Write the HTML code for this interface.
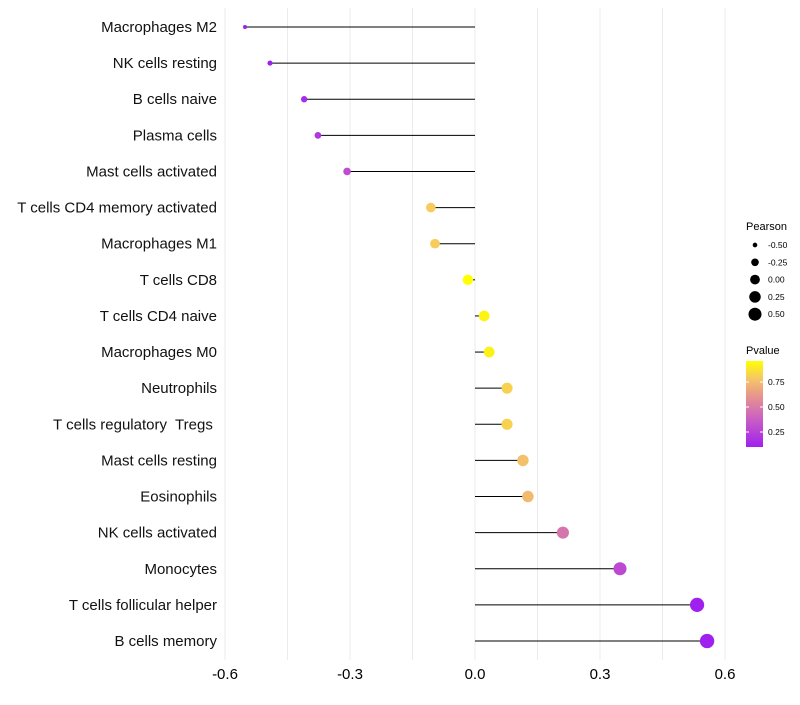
<!DOCTYPE html>
<html><head><meta charset="utf-8"><style>
body{margin:0;background:#fff;font-family:"Liberation Sans",sans-serif}
text{white-space:pre}
</style></head><body>
<svg id="chart" width="800" height="700" xmlns="http://www.w3.org/2000/svg" xml:space="preserve"></svg>
<script>
const categories=["Macrophages M2","NK cells resting","B cells naive","Plasma cells","Mast cells activated","T cells CD4 memory activated","Macrophages M1","T cells CD8","T cells CD4 naive","Macrophages M0","Neutrophils","T cells regulatory  Tregs ","Mast cells resting","Eosinophils","NK cells activated","Monocytes","T cells follicular helper","B cells memory"];
const pearson=[-0.552,-0.492,-0.41,-0.377,-0.307,-0.106,-0.096,-0.017,0.022,0.034,0.077,0.077,0.115,0.127,0.211,0.348,0.533,0.557];
const pvalue=[0.05,0.08,0.15,0.2,0.3,0.8,0.8,0.97,0.93,0.92,0.82,0.82,0.76,0.74,0.47,0.28,0.06,0.05];
const xTicks=[-0.6,-0.3,0.0,0.3,0.6];
const xTickLabels=["-0.6","-0.3","0.0","0.3","0.6"];
const sizeLegend=[-0.5,-0.25,0,0.25,0.5];
const sizeLegendLabels=["-0.50","-0.25","0.00","0.25","0.50"];
const colorTicks=[0.75,0.5,0.25];
const colorTickLabels=["0.75","0.50","0.25"];

const svg=document.getElementById('chart');
const NS="http://www.w3.org/2000/svg";
function mk(t,a,p){const e=document.createElementNS(NS,t);for(const k in a)e.setAttribute(k,a[k]);(p||svg).appendChild(e);return e;}
const x=v=>475+(v)*(500/1.2);
const y=i=>27+i*(614/17);
const r=v=>Math.sqrt(Math.max(1,27.6+42.75*v));
const pMin=0.1,pMax=0.96;
const stops=[[0,[160,32,240]],[0.35,[205,100,190]],[0.6,[232,150,140]],[0.8,[245,200,100]],[1,[255,255,0]]];
function col(p){let t=(p-pMin)/(pMax-pMin);t=Math.max(0,Math.min(1,t));for(let i=1;i<stops.length;i++){if(t<=stops[i][0]){const a=stops[i-1],b=stops[i];const f=(t-a[0])/(b[0]-a[0]);const c=a[1].map((v,j)=>Math.round(v+(b[1][j]-v)*f));return `rgb(${c})`;}}return 'rgb(255,255,0)';}

const grid=mk('g',{});


[-0.6,-0.45,-0.3,-0.15,0,0.15,0.3,0.45,0.6].forEach(v=>{
  mk('line',{x1:x(v),x2:x(v),y1:8,y2:660,stroke:'#ebebeb','stroke-width':1},grid);
});
xTicks.forEach((v,i)=>{
  const t=mk('text',{x:x(v),y:679,'text-anchor':'middle','font-size':15,fill:'#000'});
  t.textContent=xTickLabels[i];
  
  
});
categories.forEach((c,i)=>{
  const t=mk('text',{x:217,y:y(i)+5,'text-anchor':'end','font-size':15,fill:'#111'});
  t.textContent=c;
  
  
  const l=mk('line',{x1:x(0),x2:x(pearson[i]),y1:y(i),y2:y(i),stroke:'#000','stroke-width':1});
  
  
  const d=mk('circle',{cx:x(pearson[i]),cy:y(i),r:r(pearson[i]),fill:col(pvalue[i])});
  
  
});
const lt=mk('text',{x:746,y:230,'font-size':11});lt.textContent='Pearson';


sizeLegend.forEach((v,i)=>{
  const cy=245+i*17.3;
  const c=mk('circle',{cx:755,cy:cy,r:r(v)*0.93,fill:'#000'});
  
  
  const t=mk('text',{x:768,y:cy+3,'font-size':8.5});t.textContent=sizeLegendLabels[i];
  
  
});
const ct=mk('text',{x:746,y:354,'font-size':11});ct.textContent='Pvalue';


const defs=mk('defs',{});
const g=mk('linearGradient',{id:'pg',x1:0,y1:1,x2:0,y2:0},defs);
stops.forEach(s=>mk('stop',{offset:s[0],'stop-color':`rgb(${s[1]})`},g));
const cb=mk('rect',{x:746,y:361,width:17,height:86,fill:'url(#pg)'});


const cy=p=>447-(p-pMin)/(pMax-pMin)*86;
colorTicks.forEach((p,i)=>{
  mk('line',{x1:746,x2:749,y1:cy(p),y2:cy(p),stroke:'#fff'});
  mk('line',{x1:760,x2:763,y1:cy(p),y2:cy(p),stroke:'#fff'});
  const t=mk('text',{x:768,y:cy(p)+3,'font-size':8.5});t.textContent=colorTickLabels[i];
  
  
});
</script>
</body></html>
